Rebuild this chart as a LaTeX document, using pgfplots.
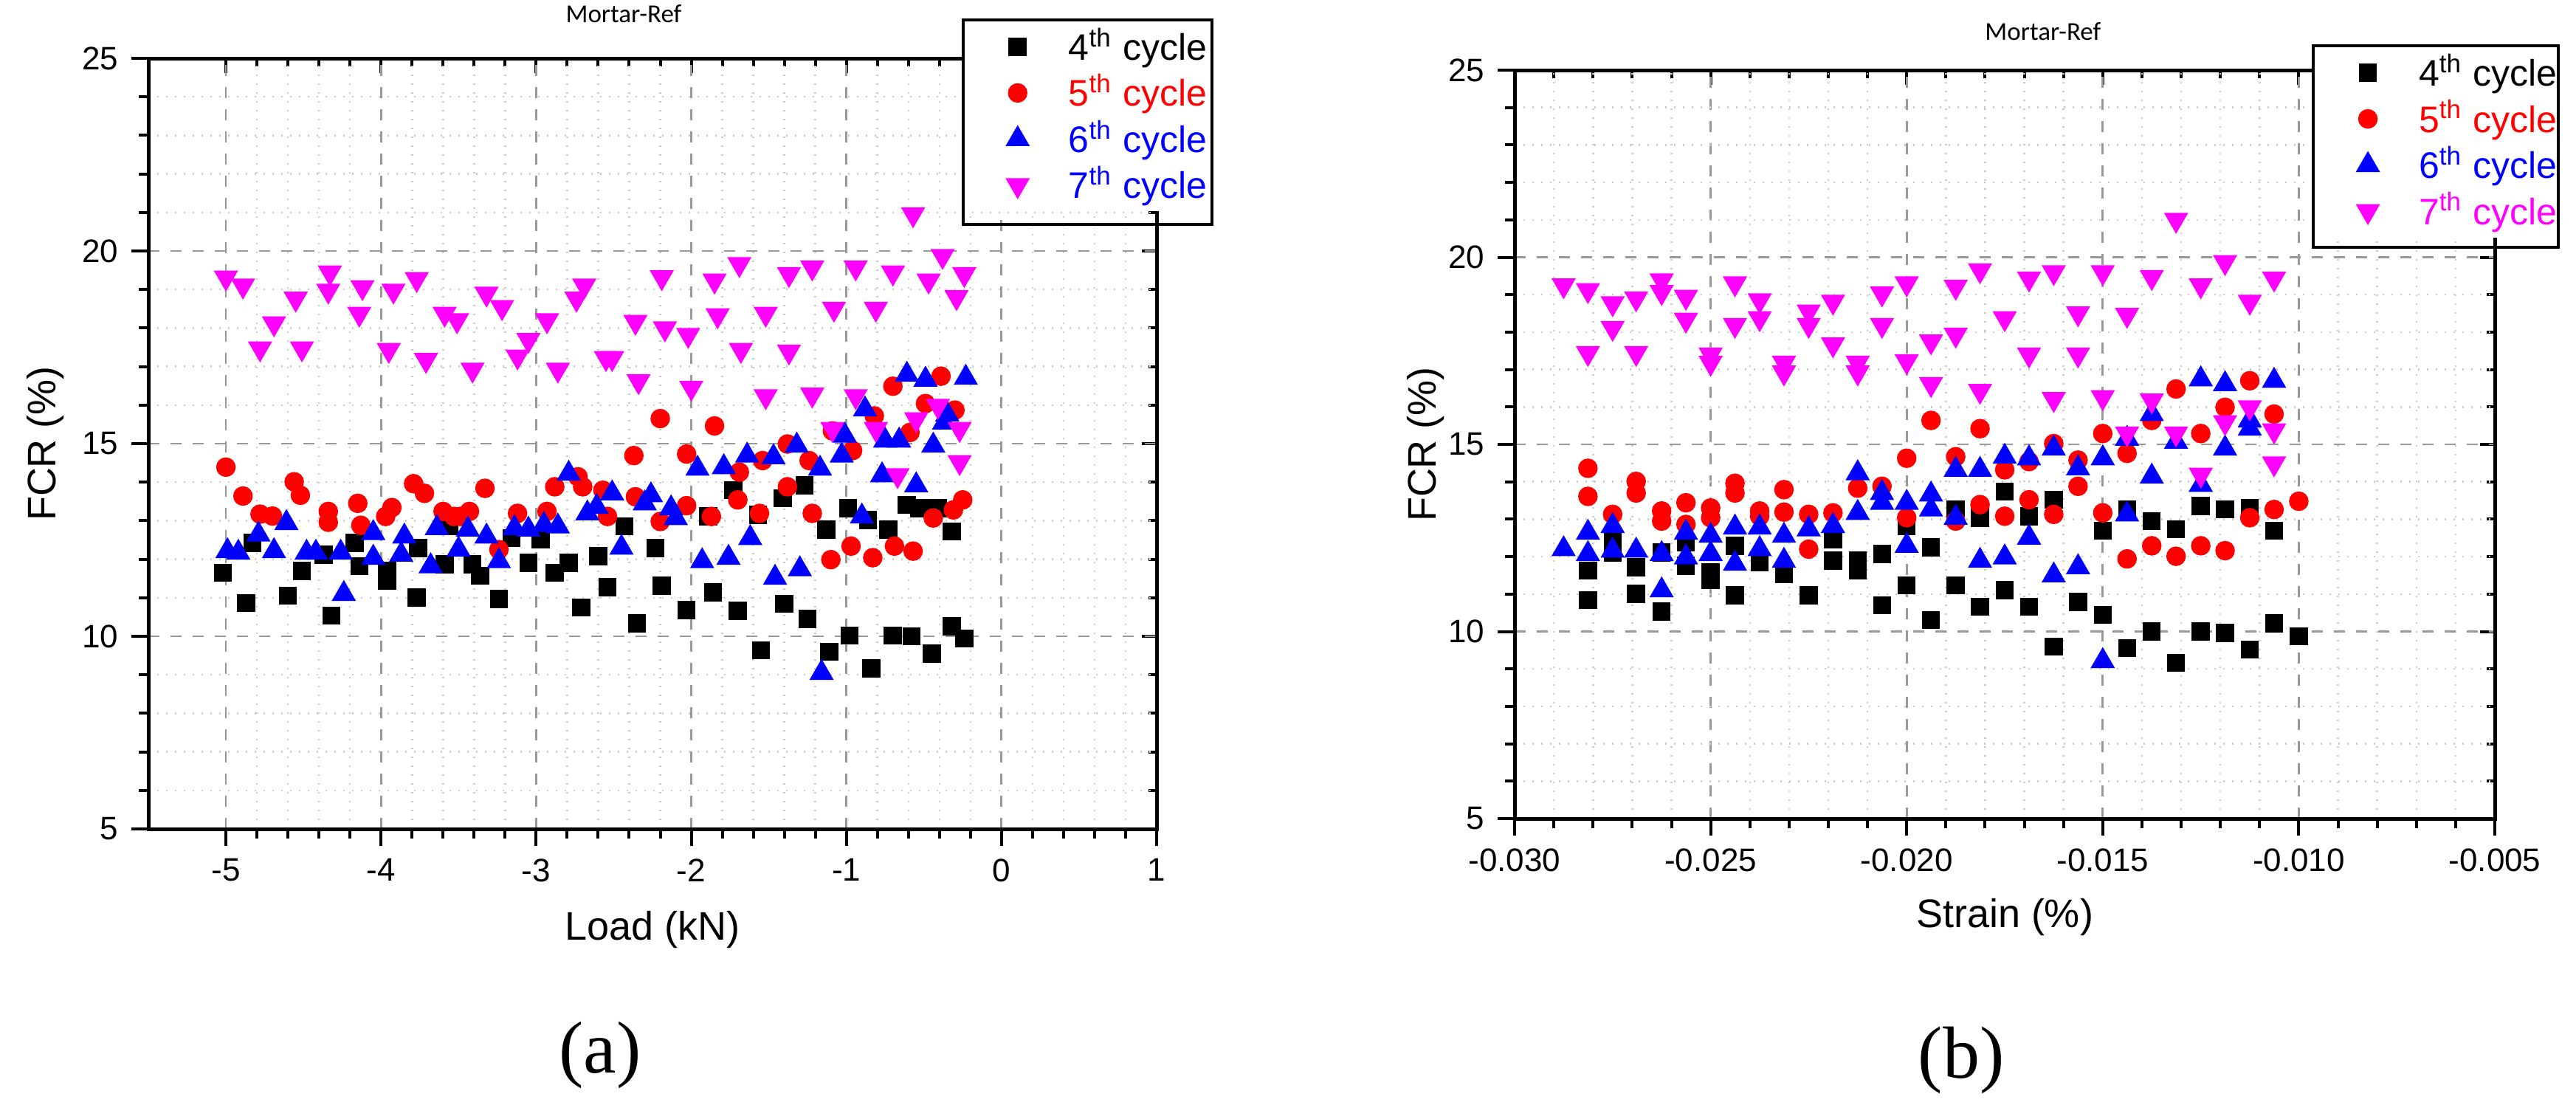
\documentclass[border=0pt]{standalone}
\usepackage{fontspec}
\setmainfont{Liberation Sans}
\newfontfamily\capfont{Liberation Serif}
\newfontfamily\titlefont{Carlito}
\usepackage{pgfplots}
\usepackage{pgfplotstable}
\pgfplotsset{compat=1.18}

\pgfplotstableread{
x y
-5.02 11.65
-4.87 10.86
-4.83 12.42
-4.60 11.05
-4.51 11.70
-4.37 12.12
-4.32 10.54
-4.17 12.42
-4.14 11.82
-3.96 11.70
-3.96 11.44
-3.77 11.01
-3.76 12.29
-3.59 11.87
-3.56 12.85
-3.41 11.87
-3.36 11.57
-3.24 10.97
-3.16 12.55
-3.05 11.91
-2.97 12.51
-2.88 11.65
-2.79 11.91
-2.71 10.75
-2.60 12.08
-2.54 11.27
-2.43 12.85
-2.35 10.34
-2.23 12.29
-2.19 11.31
-2.03 10.68
-1.89 13.11
-1.86 11.14
-1.73 13.79
-1.70 10.66
-1.57 13.15
-1.55 9.64
-1.41 13.58
-1.40 10.84
-1.27 13.92
-1.25 10.45
-1.13 12.77
-1.11 9.60
-0.99 13.32
-0.98 10.02
-0.86 13.02
-0.84 9.17
-0.73 12.77
-0.70 10.02
-0.61 13.41
-0.58 10.00
-0.53 13.32
-0.45 9.55
-0.41 13.32
-0.32 10.26
-0.32 12.72
-0.24 9.94
}\LfourthT
\pgfplotstableread{
x y
-5.00 14.39
-4.89 13.64
-4.78 13.17
-4.70 13.12
-4.56 14.01
-4.52 13.66
-4.34 13.24
-4.34 12.96
-4.15 13.45
-4.13 12.88
-3.97 13.11
-3.93 13.34
-3.79 13.96
-3.72 13.71
-3.60 13.24
-3.53 13.11
-3.49 13.11
-3.43 13.24
-3.33 13.84
-3.24 12.25
-3.12 13.19
-2.93 13.24
-2.88 13.88
-2.73 14.14
-2.70 13.88
-2.57 13.79
-2.54 13.11
-2.37 14.69
-2.36 13.62
-2.20 15.65
-2.20 12.98
-2.03 14.73
-2.03 13.39
-1.87 13.11
-1.85 15.46
-1.69 14.26
-1.70 13.54
-1.56 13.19
-1.54 14.56
-1.38 14.99
-1.38 13.88
-1.22 13.19
-1.24 14.56
-1.10 11.99
-1.09 15.33
-0.97 12.34
-0.96 14.82
-0.83 12.04
-0.82 15.72
-0.70 16.49
-0.69 12.34
-0.59 15.29
-0.57 12.21
-0.49 16.04
-0.39 16.75
-0.44 13.07
-0.30 15.87
-0.31 13.28
-0.25 13.54
}\LfifthT
\pgfplotstableread{
x y
-4.99 12.21
-4.92 12.17
-4.79 12.64
-4.69 12.21
-4.61 12.94
-4.48 12.17
-4.42 12.17
-4.26 12.17
-4.24 11.10
-4.05 12.68
-4.05 12.04
-3.85 12.59
-3.87 12.12
-3.68 11.82
-3.64 12.81
-3.50 12.25
-3.44 12.77
-3.32 12.59
-3.24 11.95
-3.14 12.81
-3.05 12.77
-2.95 12.89
-2.86 12.85
-2.79 14.22
-2.67 13.19
-2.61 13.36
-2.51 13.71
-2.45 12.30
-2.30 13.45
-2.26 13.66
-2.13 13.32
-2.10 13.07
-1.96 14.35
-1.93 11.95
-1.79 14.39
-1.76 12.04
-1.64 14.69
-1.62 12.55
-1.47 14.65
-1.46 11.52
-1.32 14.95
-1.30 11.74
-1.17 14.35
-1.16 9.05
-1.03 14.69
-1.01 15.21
-0.90 13.11
-0.88 15.89
-0.77 14.18
-0.75 15.08
-0.66 15.08
-0.61 16.79
-0.55 13.92
-0.49 16.66
-0.44 14.95
-0.37 15.55
-0.35 15.76
-0.23 16.71
}\LsixthT
\pgfplotstableread{
x y
-5.00 19.31
-4.89 19.10
-4.78 17.47
-4.69 18.12
-4.55 18.76
-4.51 17.47
-4.33 19.44
-4.34 18.97
-4.12 19.06
-4.14 18.37
-3.92 18.97
-3.95 17.43
-3.77 19.27
-3.71 17.17
-3.59 18.37
-3.51 18.20
-3.41 16.92
-3.32 18.89
-3.22 18.54
-3.05 17.69
-3.12 17.26
-2.93 18.20
-2.86 16.92
-2.69 19.10
-2.74 18.76
-2.55 17.22
-2.51 17.22
-2.36 18.16
-2.34 16.62
-2.19 19.32
-2.17 17.99
-2.02 17.82
-2.00 16.45
-1.85 19.23
-1.83 18.33
-1.69 19.66
-1.68 17.43
-1.52 18.37
-1.52 16.23
-1.37 19.40
-1.37 17.39
-1.22 19.57
-1.22 16.27
-1.08 18.50
-1.09 15.38
-0.94 19.57
-0.94 16.23
-0.81 18.50
-0.81 15.38
-0.70 19.44
-0.67 14.18
-0.57 20.95
-0.55 15.63
-0.47 19.23
-0.41 15.98
-0.38 19.87
-0.24 19.40
-0.29 18.80
-0.27 15.38
-0.27 14.52
}\LseventhT

\pgfplotstableread{
x y
-0.02813 11.63
-0.02813 10.84
-0.0275 12.42
-0.0275 12.11
-0.0269 11.72
-0.0269 11.01
-0.02625 12.11
-0.02625 10.53
-0.02563 12.38
-0.02563 11.76
-0.0250 11.59
-0.0250 11.37
-0.02438 12.29
-0.02438 10.97
-0.02375 11.85
-0.02313 11.54
-0.0225 10.97
-0.02188 12.47
-0.02188 11.89
-0.02125 11.89
-0.02125 11.63
-0.02063 12.07
-0.02063 10.70
-0.0200 12.82
-0.0200 11.23
-0.01938 12.25
-0.01938 10.31
-0.01875 13.26
-0.01875 11.23
-0.01813 13.04
-0.01813 10.66
-0.0175 13.74
-0.0175 11.10
-0.01688 13.08
-0.01688 10.66
-0.01625 13.52
-0.01625 9.60
-0.01563 10.79
-0.0150 12.69
-0.0150 10.44
-0.01438 13.26
-0.01438 9.56
-0.01375 12.95
-0.01375 10.00
-0.01313 12.73
-0.01313 9.16
-0.0125 13.35
-0.0125 10.00
-0.01188 13.26
-0.01188 9.96
-0.01125 13.30
-0.01125 9.52
-0.01063 12.69
-0.01063 10.22
-0.0100 9.87
}\RfourthT
\pgfplotstableread{
x y
-0.02813 14.36
-0.02813 13.61
-0.0275 13.13
-0.0269 14.01
-0.0269 13.70
-0.02625 13.22
-0.02625 12.95
-0.02563 13.44
-0.02563 12.86
-0.0250 13.30
-0.0250 13.04
-0.02438 13.96
-0.02438 13.70
-0.02375 13.22
-0.02375 13.08
-0.02313 13.79
-0.02313 13.19
-0.0225 13.13
-0.0225 12.20
-0.02188 13.17
-0.02125 13.83
-0.02063 13.88
-0.0200 14.63
-0.0200 13.04
-0.01938 15.64
-0.01875 14.67
-0.01875 12.95
-0.01813 15.42
-0.01813 13.39
-0.0175 14.32
-0.0175 13.08
-0.01688 14.54
-0.01688 13.52
-0.01625 15.02
-0.01625 13.13
-0.01563 14.58
-0.01563 13.88
-0.0150 15.29
-0.0150 13.17
-0.01438 14.76
-0.01438 11.94
-0.01375 15.64
-0.01375 12.29
-0.01313 16.48
-0.01313 12.01
-0.0125 15.29
-0.0125 12.29
-0.01188 15.99
-0.01188 12.16
-0.01125 16.70
-0.01125 13.04
-0.01063 15.81
-0.01063 13.26
-0.0100 13.48
}\RfifthT
\pgfplotstableread{
x y
-0.02875 12.20
-0.02813 12.64
-0.02813 12.07
-0.0275 12.82
-0.0275 12.16
-0.0269 12.16
-0.02625 12.07
-0.02625 11.10
-0.02563 12.64
-0.02563 11.98
-0.0250 12.56
-0.0250 12.07
-0.02438 12.78
-0.02438 11.81
-0.02375 12.78
-0.02375 12.20
-0.02313 12.56
-0.02313 11.89
-0.0225 12.73
-0.02188 12.82
-0.02125 14.23
-0.02125 13.17
-0.02063 13.70
-0.02063 13.44
-0.0200 13.44
-0.0200 12.29
-0.01938 13.66
-0.01938 13.26
-0.01875 14.32
-0.01875 13.04
-0.01813 14.32
-0.01813 11.89
-0.0175 14.67
-0.0175 11.98
-0.01688 14.63
-0.01688 12.51
-0.01625 14.89
-0.01625 11.50
-0.01563 14.36
-0.01563 11.72
-0.0150 14.63
-0.0150 9.21
-0.01438 15.15
-0.01438 13.13
-0.01375 15.81
-0.01375 14.14
-0.01313 15.07
-0.0125 16.74
-0.0125 13.92
-0.01188 16.61
-0.01188 14.89
-0.01125 15.64
-0.01125 15.42
-0.01063 16.70
}\RsixthT
\pgfplotstableread{
x y
-0.02875 19.25
-0.02813 19.12
-0.02813 17.44
-0.0275 18.77
-0.0275 18.11
-0.0269 18.90
-0.0269 17.44
-0.02625 19.38
-0.02625 19.07
-0.02563 18.94
-0.02563 18.33
-0.0250 17.40
-0.0250 17.18
-0.02438 19.30
-0.02438 18.19
-0.02375 18.85
-0.02375 18.37
-0.02313 17.18
-0.02313 16.92
-0.0225 18.55
-0.0225 18.19
-0.02188 18.81
-0.02188 17.67
-0.02125 17.18
-0.02125 16.92
-0.02063 19.03
-0.02063 18.19
-0.0200 19.30
-0.0200 17.22
-0.01938 17.75
-0.01938 16.61
-0.01875 19.21
-0.01875 17.93
-0.01813 19.65
-0.01813 16.43
-0.0175 18.37
-0.01688 19.43
-0.01688 17.40
-0.01625 19.60
-0.01625 16.21
-0.01563 18.50
-0.01563 17.40
-0.0150 19.60
-0.0150 16.26
-0.01438 18.46
-0.01438 15.29
-0.01375 19.47
-0.01375 16.17
-0.01313 21.00
-0.01313 15.29
-0.0125 19.25
-0.0125 14.19
-0.01188 19.87
-0.01188 15.59
-0.01125 18.81
-0.01125 15.99
-0.01063 19.43
-0.01063 15.37
-0.01063 14.49
}\RseventhT

\definecolor{mag}{RGB}{255,0,255}

\pgfplotsset{
  fcrbase/.style={
    scale only axis,
    ymin=5, ymax=25,
    ytick={5,10,15,20,25},
    minor x tick num=4, minor y tick num=4,
    axis line style={line width=1pt},
    scaled x ticks=false, scaled y ticks=false,
  },
  fcr/.style={
    fcrbase,
    grid=both,
    major grid style={gray!80, dashed, line width=0.55pt},
    minor grid style={gray!40, dotted, line width=0.5pt},
    tick align=outside,
    xtick pos=bottom, ytick pos=left,
    major tick length=4.6pt, minor tick length=2.6pt,
    every tick/.style={black, line width=0.8pt},
    yticklabels={5,10,15,20,25},
    tick label style={font=\fontsize{8.8}{10}\selectfont},
    label style={font=\fontsize{10.8}{12}\selectfont},
    legend cell align=left,
    legend image code/.code={%
      \path[draw=none,fill=none] (0pt,-2pt) rectangle (25.4pt,2pt);
      \draw[mark repeat=2,mark phase=2,#1] plot coordinates {(0pt,0pt)(12.6pt,0pt)(22pt,0pt)};},
  },
  fcrtop/.style={
    fcrbase,
    tick align=inside,
    xtick pos=top, ytick pos=right,
    major tick length=4pt, minor tick length=2.2pt,
    every tick/.style={black, line width=0.8pt},
    xticklabels={}, yticklabels={},
  },
  s4/.style={only marks, mark=square*, mark size=2.3pt, black, mark options={line width=0.3pt}},
  s5/.style={only marks, mark=*, mark size=2.5pt, red, mark options={line width=0.3pt}},
  s6/.style={only marks, mark=triangle*, mark size=3.5pt, blue, mark options={line width=0.3pt}},
  s7/.style={only marks, mark=triangle*, mark size=3.5pt, mag, mark options={rotate=180, line width=0.3pt}},
  leg/.style 2 args={legend style={at={#1}, anchor=north west, draw=none, fill=white,
      inner xsep=2pt, inner ysep=0pt, name=#2,
      font=\fontsize{10}{12}\selectfont,
      nodes={inner xsep=1pt},
      row sep=-1.7pt}},
}

\begin{document}
\begin{tikzpicture}
\path[use as bounding box] (0,0) rectangle (698pt,-299.4pt);

% ---------- (a) ----------
\begin{axis}[fcrtop,
  at={(40.2pt,-224.6pt)}, anchor=south west,
  width=273.2pt, height=208.8pt,
  xmin=-5.5, xmax=1,
  xtick={-5,-4,-3,-2,-1,0,1},
]
\end{axis}
\begin{axis}[fcr,
  at={(40.2pt,-224.6pt)}, anchor=south west,
  width=273.2pt, height=208.8pt,
  xmin=-5.5, xmax=1,
  xtick={-5,-4,-3,-2,-1,0,1},
  xticklabels={-5,-4,-3,-2,-1,0,1},
  xlabel={Load (kN)}, ylabel={FCR (\%)},
  xlabel style={at={(axis description cs:0.5,-0.131)}, anchor=center},
  ylabel style={at={(axis description cs:-0.1018,0.5)}, anchor=center},
  title={Mortar-Ref},
  title style={at={(axis description cs:0.4714,1.0288)}, anchor=center, font=\titlefont\fontsize{7}{8}\selectfont},
  leg={(0.808,1.0499)}{legA},
]
\addplot[s4] table {\LfourthT};
\addlegendentry{4\textsuperscript{th} cycle}
\addplot[s5] table {\LfifthT};
\addlegendentry{\textcolor{red}{5\textsuperscript{th} cycle}}
\addplot[s6] table {\LsixthT};
\addlegendentry{\textcolor{blue}{6\textsuperscript{th} cycle}}
\addplot[s7] table {\LseventhT};
\addlegendentry{\textcolor{blue}{7\textsuperscript{th} cycle}}
\end{axis}
\draw[line width=0.8pt] (legA.north west) rectangle ++(67.4pt,-55.4pt);

% ---------- (b) ----------
\begin{axis}[fcrtop,
  at={(410.4pt,-221.8pt)}, anchor=south west,
  width=265.6pt, height=202.8pt,
  xmin=-0.030, xmax=-0.005,
  xtick={-0.030,-0.025,-0.020,-0.015,-0.010,-0.005},
]
\end{axis}
\begin{axis}[fcr,
  at={(410.4pt,-221.8pt)}, anchor=south west,
  width=265.6pt, height=202.8pt,
  xmin=-0.030, xmax=-0.005,
  xtick={-0.030,-0.025,-0.020,-0.015,-0.010,-0.005},
  xticklabels={-0.030,-0.025,-0.020,-0.015,-0.010,-0.005},
  xlabel={Strain (\%)}, ylabel={FCR (\%)},
  xlabel style={at={(axis description cs:0.5,-0.132)}, anchor=center},
  ylabel style={at={(axis description cs:-0.0904,0.5)}, anchor=center},
  title={Mortar-Ref},
  title style={at={(axis description cs:0.539,1.0217)}, anchor=center, font=\titlefont\fontsize{7}{8}\selectfont},
  leg={(0.8148,1.0325)}{legB},
]
\addplot[s4] table {\RfourthT};
\addlegendentry{4\textsuperscript{th} cycle}
\addplot[s5] table {\RfifthT};
\addlegendentry{\textcolor{red}{5\textsuperscript{th} cycle}}
\addplot[s6] table {\RsixthT};
\addlegendentry{\textcolor{blue}{6\textsuperscript{th} cycle}}
\addplot[s7] table {\RseventhT};
\addlegendentry{\textcolor{mag}{7\textsuperscript{th} cycle}}
\end{axis}
\draw[line width=0.8pt] (legB.north west) rectangle ++(66.4pt,-54.6pt);

\node[font=\capfont\fontsize{20}{24}\selectfont] at (162.6pt,-285.8pt) {(a)};
\node[font=\capfont\fontsize{20}{24}\selectfont] at (531.4pt,-287.2pt) {(b)};
\end{tikzpicture}
\end{document}
